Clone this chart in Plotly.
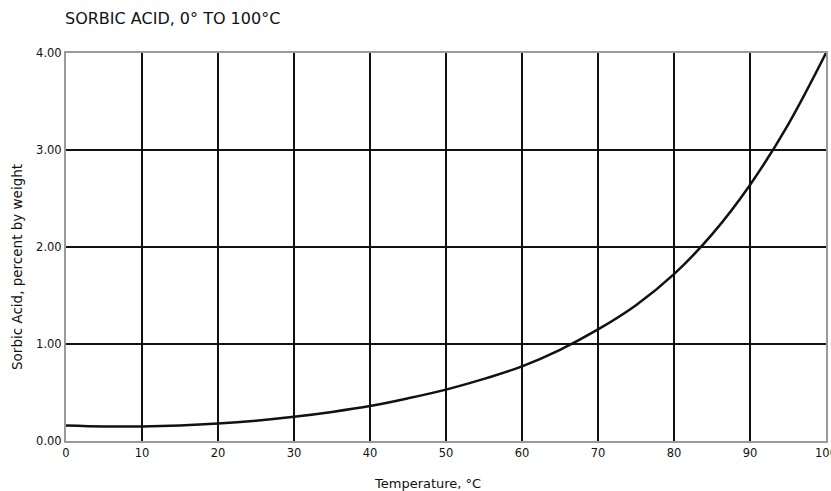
import plotly.graph_objects as go

temperature_c = [0, 5, 10, 15, 20, 25, 30, 35, 40, 45, 50, 55, 60, 65, 70, 75, 80, 85, 90, 95, 100]
sorbic_pct = [0.16, 0.15, 0.15, 0.16, 0.18, 0.21, 0.25, 0.30, 0.36, 0.44, 0.53, 0.64, 0.77, 0.94, 1.15, 1.40, 1.72, 2.13, 2.64, 3.26, 4.00]

x_ticks = [0, 10, 20, 30, 40, 50, 60, 70, 80, 90, 100]
y_ticks = [0, 1, 2, 3, 4]
y_tick_labels = ["0.00", "1.00", "2.00", "3.00", "4.00"]

fig = go.Figure()
fig.add_trace(go.Scatter(
    x=temperature_c, y=sorbic_pct, mode="lines",
    line=dict(color="#111111", width=2.5, shape="spline", smoothing=1.0),
    showlegend=False, hoverinfo="x+y", cliponaxis=False,
))

font_family = "DejaVu Sans, Verdana, sans-serif"
W, H = 831, 491
L, R, T, B = 66, 5, 53, 50
pw, ph = W - L - R, H - T - B

fig.update_layout(
    width=W, height=H,
    margin=dict(l=L, r=R, t=T, b=B, autoexpand=False),
    paper_bgcolor="white", plot_bgcolor="white",
    font=dict(family=font_family, color="#111111", size=11),
    title=dict(text="SORBIC ACID, 0° TO 100°C", x=65/W, xanchor="left",
               y=1 - 18/H, yanchor="middle",
               font=dict(size=16, family=font_family, color="#111111")),
    xaxis=dict(
        range=[0, 100], tickvals=x_ticks, ticktext=[str(v) for v in x_ticks],
        showgrid=True, gridcolor="#111111", gridwidth=2,
        showline=True, linecolor="#9a9a9a", linewidth=2, mirror=True,
        zeroline=False, ticks="", ticklen=0, automargin=False,
        ticklabeloverflow="allow",
        tickfont=dict(size=11.5, family=font_family, color="#111111"),
    ),
    yaxis=dict(
        range=[0, 4], tickvals=y_ticks, ticktext=y_tick_labels,
        showgrid=True, gridcolor="#111111", gridwidth=2,
        showline=True, linecolor="#9a9a9a", linewidth=2, mirror=True,
        zeroline=False, ticks="", ticklen=0, automargin=False,
        tickfont=dict(size=11.5, family=font_family, color="#111111"),
    ),
    annotations=[
        dict(text="Temperature, °C", xref="paper", yref="paper",
             x=(427 - L) / pw, y=-(483 - (H - B)) / ph,
             xanchor="center", yanchor="middle", showarrow=False,
             font=dict(size=13, family=font_family, color="#111111")),
        dict(text="Sorbic Acid, percent by weight", xref="paper", yref="paper",
             x=(17 - L) / pw, y=((H - B) - 267) / ph, textangle=-90,
             xanchor="center", yanchor="middle", showarrow=False,
             font=dict(size=13.5, family=font_family, color="#111111")),
    ],
)

fig.write_html("out.html", config={"displayModeBar": False},
               post_script="document.body.style.margin='0';document.body.style.overflow='hidden';")
